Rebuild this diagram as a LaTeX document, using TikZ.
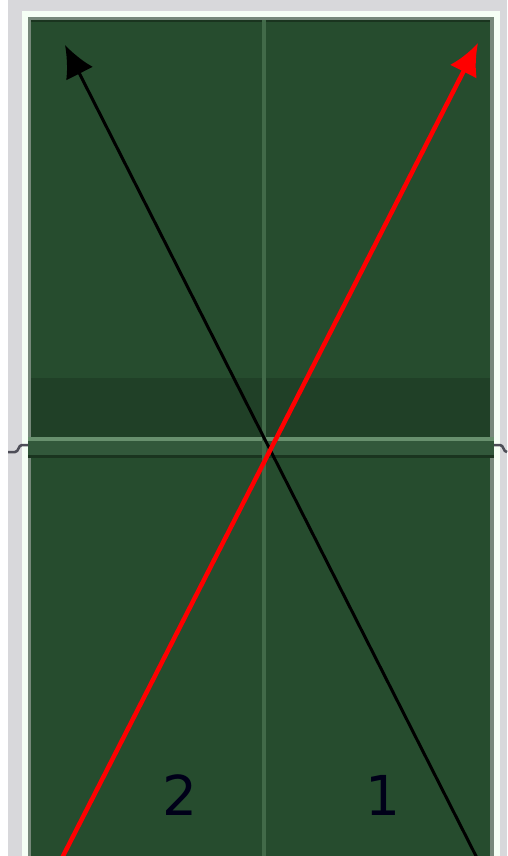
\documentclass[tikz,border=0pt]{standalone}
\usepackage{fontspec}
\setmainfont{DejaVu Sans}
\usepackage{xcolor}
\usetikzlibrary{arrows.meta}
\definecolor{felt}{RGB}{38,76,46}
\definecolor{feltdark}{RGB}{32,64,39}
\definecolor{feltedge}{RGB}{26,52,31}
\definecolor{feltmid}{RGB}{50,88,59}
\definecolor{feltlight}{RGB}{104,144,110}
\definecolor{seam}{RGB}{66,106,73}
\definecolor{rim}{RGB}{118,136,122}
\definecolor{shell}{RGB}{216,216,219}
\definecolor{grip}{RGB}{78,78,88}

\begin{document}
\begin{tikzpicture}[x=1pt,y=-1pt,
    lanelabel/.style={font=\fontsize{55}{55}\selectfont,text=black!90!blue,inner sep=0pt},
    ray/.style={line width=#1,-{Latex[length=32pt,width=30pt]}}]
  \useasboundingbox (0,0) rectangle (507,856);
  % window frame
  \fill[white] (0,0) rectangle (507,856);
  \fill[shell] (8,0) rectangle (507,856);
  \fill[white!96!green] (22,11) rectangle (500,856);
  \fill[rim] (28,17) rectangle (494,856);
  \fill[felt] (31,20) rectangle (490,856);
  \fill[feltedge] (31,20) rectangle (490,22);
  % splitter band
  \fill[feltdark] (31,378) rectangle (490,437);
  \fill[feltlight] (28,437) rectangle (494,441);
  \fill[feltmid] (28,441) rectangle (494,455);
  \fill[feltedge] (28,455) rectangle (494,458);
  % grips
  \draw[grip,line width=2.5pt] (8,452) -- (15,452) to[out=0,in=180] (22,445) -- (28,445);
  \draw[grip,line width=2.5pt] (494,445) -- (500,445) to[out=0,in=180] (507,452);
  % centre seam
  \fill[seam] (262,20) rectangle (266,856);
  % lanes
  \node[lanelabel] (two) at (180,795) {2};
  \node[lanelabel] (one) at (383,795) {1};
  % rays
  \coordinate (blackfoot) at (478,860);
  \coordinate (blacktip) at (65,45);
  \coordinate (redfoot) at (61,860);
  \coordinate (redtip) at (478,43);
  \draw[ray=3pt,black] (blackfoot) -- (blacktip);
  \draw[ray=4.5pt,red] (redfoot) -- (redtip);
\end{tikzpicture}
\end{document}
